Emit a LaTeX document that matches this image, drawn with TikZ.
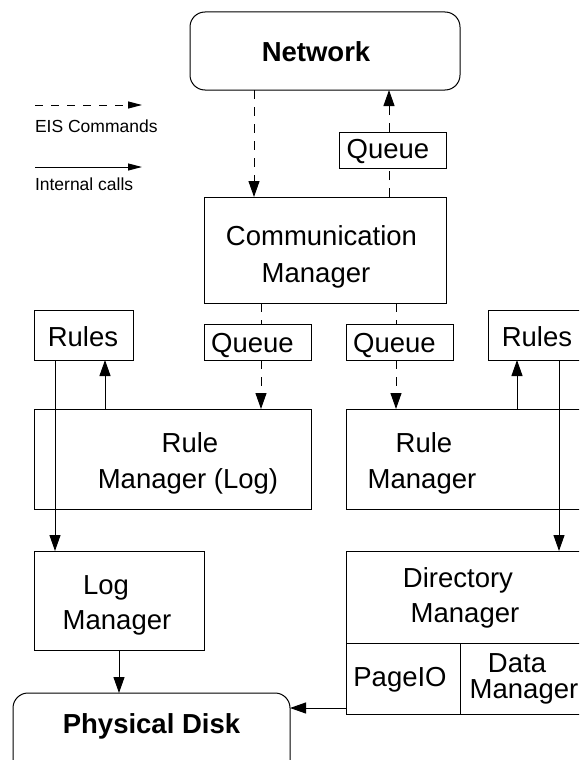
\documentclass[tikz,border=0pt]{standalone}
\usepackage{fontspec}
\setmainfont{Liberation Sans}
\usetikzlibrary{arrows.meta}
\begin{document}
\begin{tikzpicture}[x=1pt,y=-1pt,
  every node/.style={inner sep=0pt, outer sep=0pt},
  box/.style={draw, line width=1pt, rectangle},
  rbox/.style={box, rounded corners=15pt},
  lbl/.style={anchor=base, font=\fontsize{27.5}{32}\selectfont},
  blbl/.style={lbl, font=\fontsize{27.5}{32}\selectfont\bfseries},
  small/.style={anchor=base west, font=\fontsize{17.5}{21}\selectfont},
  call/.style={line width=1pt, -{Triangle[length=16pt,width=11pt]}},
  eis/.style={call, dash pattern=on 9pt off 8pt},
  eisline/.style={line width=1pt, dash pattern=on 9pt off 8pt},
  legcall/.style={line width=1pt, -{Triangle[length=14pt,width=7pt]}},
  legeis/.style={legcall, dash pattern=on 8pt off 8pt}]
\clip (0,0) rectangle (579,760);
\useasboundingbox (0,0) rectangle (579,760);

% column positions of the vertical connectors
\coordinate (cA) at (254,0);
\coordinate (cB) at (389,0);
\coordinate (cC) at (261,0);
\coordinate (cD) at (396,0);
\coordinate (cE) at (105,0);
\coordinate (cF) at (55,0);
\coordinate (cG) at (517,0);
\coordinate (cH) at (559,0);
\coordinate (cI) at (119,0);
\coordinate (rJ) at (0,708);

% boxes
\node[rbox, minimum width=270pt, minimum height=78pt] (net) at (325,51) {};
\node[box, minimum width=242pt, minimum height=106pt] (comm) at (325,250) {};
\node[box, minimum width=107pt, minimum height=36pt] (qtop) at (392.5,150) {};
\node[box, minimum width=107pt, minimum height=36pt] (qL) at (257.5,342) {};
\node[box, minimum width=107pt, minimum height=36pt] (qR) at (399.5,342) {};
\node[box, minimum width=99pt, minimum height=50pt] (rulesL) at (83.5,335) {};
\node[box, minimum width=99pt, minimum height=50pt] (rulesR) at (537.5,335) {};
\node[box, minimum width=277pt, minimum height=100pt] (rmlog) at (172.5,459) {};
\node[box, minimum width=254pt, minimum height=100pt] (rm) at (473,459) {};
\node[box, minimum width=170pt, minimum height=99pt] (logm) at (119,600.5) {};
\node[box, minimum width=254pt, minimum height=163pt] (dir) at (473,632.5) {};
\node[rbox, minimum width=277pt, minimum height=87pt] (disk) at (151.5,736.5) {};

% compartments of the directory manager
\coordinate (dsplitL) at (346,643);
\coordinate (dsplitM) at (460,643);
\draw[line width=1pt] (dsplitL) -- (dsplitL -| dir.east);
\draw[line width=1pt] (dsplitM) -- (dsplitM |- dir.south);

% texts
\node[blbl] (tnet) at (316,62) {Network};
\node[lbl] (tcomm1) at (321.5,245) {Communication};
\node[lbl] (tcomm2) at (316,282) {Manager};
\node[lbl] (tqtop) at (388,158) {Queue};
\node[lbl] (tqL) at (252.5,352) {Queue};
\node[lbl] (tqR) at (394.5,352) {Queue};
\node[lbl] (trulesL) at (83,346) {Rules};
\node[lbl] (trulesR) at (537,346) {Rules};
\node[lbl] (trmlog1) at (190,452) {Rule};
\node[lbl] (trmlog2) at (188,488) {Manager (Log)};
\node[lbl] (trm1) at (424,452) {Rule};
\node[lbl] (trm2) at (422,488) {Manager};
\node[lbl] (tlog1) at (106,594) {Log};
\node[lbl] (tlog2) at (117,629) {Manager};
\node[lbl] (tdir1) at (458,587) {Directory};
\node[lbl] (tdir2) at (465,622) {Manager};
\node[lbl] (tpage) at (400,686) {PageIO};
\node[lbl] (tdata1) at (517,672) {Data};
\node[lbl] (tdata2) at (524,698) {Manager};
\node[blbl] (tdisk) at (151.5,733) {Physical Disk};

% legend
\coordinate (leg1s) at (35,105);
\coordinate (leg1e) at (142,105);
\coordinate (leg2s) at (35,167);
\coordinate (leg2e) at (142,167);
\draw[legeis] (leg1s) -- (leg1e);
\draw[legcall] (leg2s) -- (leg2e);
\node[small] (leg1t) at (35,132) {EIS Commands};
\node[small] (leg2t) at (35,190) {Internal calls};

% EIS command flow
\draw[eis] (net.south -| cA) -- (comm.north -| cA);
\draw[eisline] (comm.north -| cB) -- (qtop.south -| cB);
\draw[eis] (qtop.north -| cB) -- (net.south -| cB);
\draw[eisline] (comm.south -| cC) -- (qL.north -| cC);
\draw[eis] (qL.south -| cC) -- (rmlog.north -| cC);
\draw[eisline] (comm.south -| cD) -- (qR.north -| cD);
\draw[eis] (qR.south -| cD) -- (rm.north -| cD);

% internal calls
\draw[call] (rmlog.north -| cE) -- (rulesL.south -| cE);
\draw[call] (rulesL.south -| cF) -- (logm.north -| cF);
\draw[call] (rm.north -| cG) -- (rulesR.south -| cG);
\draw[call] (rulesR.south -| cH) -- (dir.north -| cH);
\draw[call] (logm.south -| cI) -- (disk.north -| cI);
\draw[call] (dir.west |- rJ) -- (disk.east |- rJ);
\end{tikzpicture}
\end{document}
